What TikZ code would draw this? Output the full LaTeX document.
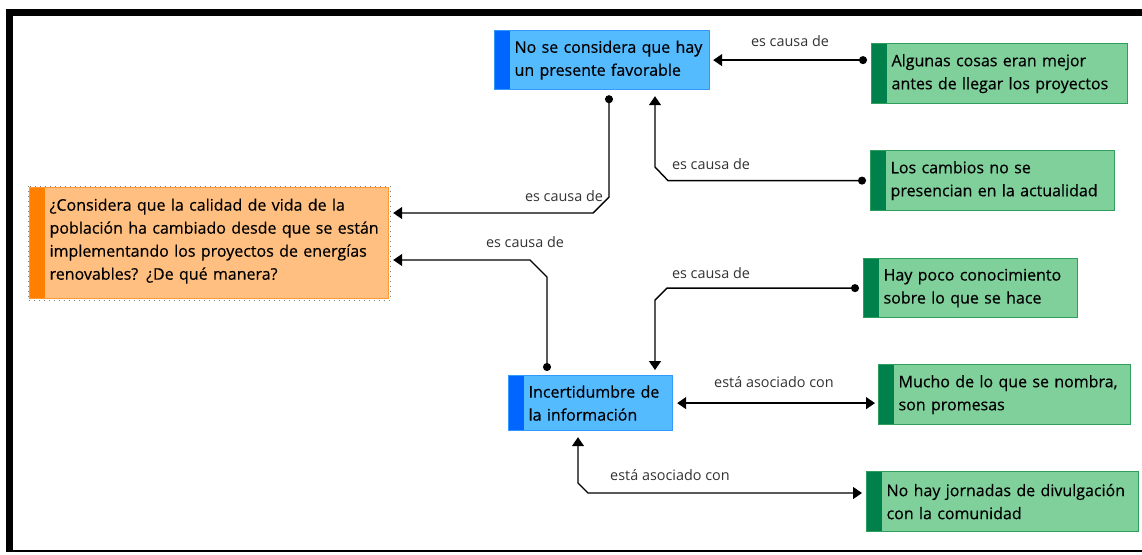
\documentclass[tikz,border=0pt]{standalone}
\usepackage{fontspec}
\setmainfont{Open Sans}
\newfontfamily\boxfont{Open Sans}[FakeBold=0.4]
\usetikzlibrary{arrows.meta}
\definecolor{bluefill}{RGB}{85,187,255}
\definecolor{bluestripe}{RGB}{0,102,255}
\definecolor{blueline}{RGB}{51,153,255}
\definecolor{orangefill}{RGB}{255,191,128}
\definecolor{orangestripe}{RGB}{255,128,0}
\definecolor{orangeline}{RGB}{255,153,51}
\definecolor{greenfill}{RGB}{128,208,156}
\definecolor{greenstripe}{RGB}{0,128,74}
\definecolor{greenline}{RGB}{46,158,94}
\definecolor{labelgray}{RGB}{51,51,51}
\tikzset{
  box/.style={anchor=north west, align=left, inner xsep=2.5pt, inner ysep=0pt, line width=0.6pt,
    font=\boxfont\fontsize{8pt}{11.5pt}\selectfont, execute at begin node={\leftskip=7.5pt}},
  stripe/.style={path picture={\fill[#1] (path picture bounding box.north west) rectangle ([xshift=7.5pt]path picture bounding box.south west);}},
  bluebox/.style={box, draw=blueline, fill=bluefill, stripe=bluestripe},
  orangebox/.style={box, draw=orangeline, fill=orangefill, stripe=orangestripe},
  greenbox/.style={box, draw=greenline, fill=greenfill, stripe=greenstripe},
  causa/.style={{Circle[length=4pt]}-{Triangle[length=4.5pt,width=6pt]}, line width=0.7pt},
  asociado/.style={{Triangle[length=4.5pt,width=6pt]}-{Triangle[length=4.5pt,width=6pt]}, line width=0.7pt},
  rel/.style={font=\fontsize{7.2pt}{9pt}\selectfont, text=labelgray, inner sep=0pt}
}
\begin{document}
\begin{tikzpicture}[x=0.5pt,y=-0.5pt]
\useasboundingbox (0,0) rectangle (1142,554);
\draw [line width=3.5pt] (1142,12.5)--(9.5,12.5)--(9.5,552);
\draw [line width=0.8pt] (9.5,551)--(1142,551);
\node [bluebox, text width=102.5pt, minimum height=29.5pt] (a) at (494,30) {No se considera que hay\\un presente favorable};
\node [orangebox, text width=174.5pt, minimum height=55.5pt] (q) at (29,187) {¿Considera que la calidad de vida de la\\población ha cambiado desde que se están\\implementando los proyectos de energías\\renovables? ¿De qué manera?\rule[-4pt]{0pt}{0pt}};
\draw [gray, dotted, line width=0.5pt] ([shift={(-1,-1)}]q.north west) rectangle ([shift={(1,1)}]q.south east);
\node [bluebox, text width=77pt, minimum height=27.5pt] (i) at (508,375) {Incertidumbre de\\la información};
\node [greenbox, text width=123pt, minimum height=30pt] (g1) at (871,43) {Algunas cosas eran mejor\\antes de llegar los proyectos};
\node [greenbox, text width=117pt, minimum height=30pt] (g2) at (870,150) {Los cambios no se\\presencian en la actualidad};
\node [greenbox, text width=102pt, minimum height=29.5pt] (g3) at (863,258) {Hay poco conocimiento\\sobre lo que se hace};
\node [greenbox, text width=121pt, minimum height=30pt] (g4) at (878,364) {Mucho de lo que se nombra,\\son promesas};
\node [greenbox, text width=131pt, minimum height=30pt] (g5) at (866,471) {No hay jornadas de divulgación\\con la comunidad};
\draw [causa, shorten <=2pt, shorten >=1.5pt] (g1.west |- a.east)--(a.east);
\draw [causa, shorten <=2pt, shorten >=3pt] (g2.west)--(668,0 |- g2.west)--(655,167)--(655,0 |- a.south);
\draw [causa, shorten <=2.5pt, shorten >=2pt] (609,0 |- a.south)--(609,197)--(593,213)--(q.east |- 0,213);
\draw [causa, shorten <=2pt, shorten >=2pt] (547,0 |- i.north)--(547,277)--(530,260)--(q.east |- 0,260);
\draw [causa, shorten <=2pt, shorten >=2.5pt] (g3.west)--(667,0 |- g3.west)--(655,300)--(655,0 |- i.north);
\draw [asociado, shorten <=2pt, shorten >=1.5pt] (i.east)--(g4.west |- i.east);
\draw [asociado, shorten <=3pt, shorten >=2pt] (578,0 |- i.south)--(578,483)--(588,493)--(g5.west |- 0,493);
\node [rel] (l1) at (790,41) {es causa de};
\node [rel] (l2) at (711,164) {es causa de};
\node [rel] (l3) at (564,196) {es causa de};
\node [rel] (l4) at (525,242) {es causa de};
\node [rel] (l5) at (711,273) {es causa de};
\node [rel] (l6) at (774,382) {está asociado con};
\node [rel] (l7) at (670,475) {está asociado con};
\end{tikzpicture}
\end{document}
